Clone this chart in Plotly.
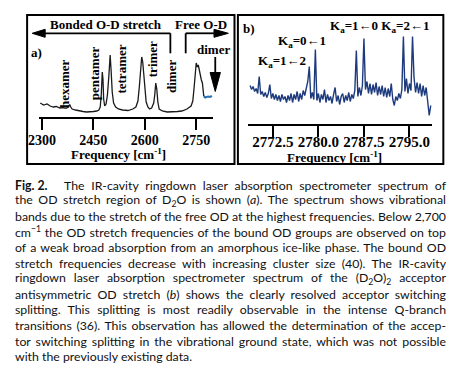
import json
import plotly.graph_objects as go

W, H = 457, 374

def px(x):
    return x / W

def py(y):
    return 1 - y / H

# ---------------- data ----------------
# panel a: OD stretch region (cm^-1, arbitrary absorbance)
a_freq = [2295, 2305, 2315, 2324, 2333, 2342, 2352, 2360, 2366, 2372, 2377, 2381, 2384, 2388,
          2398, 2409, 2420, 2430, 2440, 2450, 2460, 2466, 2470, 2473, 2476, 2478, 2480, 2483,
          2487, 2491, 2495, 2499, 2502, 2505, 2509, 2515, 2523, 2535, 2551, 2565, 2574, 2580,
          2584, 2588, 2591, 2594, 2597, 2600, 2604, 2609, 2614, 2620, 2626, 2629, 2632, 2635,
          2638, 2642, 2651, 2665, 2679, 2695, 2708, 2723, 2735, 2740, 2744, 2747, 2750, 2753,
          2756, 2759, 2762, 2765, 2768, 2770, 2772]
a_int = [14, 12, 13, 11, 10, 10.5, 9, 9.5, 9, 9, 10, 12.5, 10, 8,
         7, 6, 5.5, 5, 5, 5.5, 6, 7, 10, 22, 45, 38, 18, 11,
         13, 22, 40, 62, 45, 25, 14, 10, 8, 7, 6.5, 8, 10, 16,
         30, 52, 60, 55, 40, 25, 15, 10, 8, 9, 14, 22, 34, 28,
         15, 8, 6, 5, 5, 5.5, 6, 8, 11, 16, 30, 45, 54, 50,
         52, 47, 40, 37, 34, 24, 21]
# dimer (blue) part of panel a
a_dimer_freq = [2772, 2776, 2780, 2785, 2790, 2796]
a_dimer_int = [21, 19.5, 20, 20.5, 20, 21]
a_ticks = [2300, 2450, 2600, 2750]
a_ticktext = ["2300", "2450", "2600", "2750"]

# panel b: (D2O)2 acceptor antisymmetric OD stretch
b_freq = [2768.75, 2769.00, 2769.25, 2769.50, 2769.75, 2770.00, 2770.25, 2770.50, 2770.75, 2771.00,
          2771.25, 2771.50, 2771.75, 2772.00, 2772.25, 2772.50, 2772.75, 2773.00, 2773.25, 2773.50,
          2773.75, 2774.00, 2774.25, 2774.50, 2774.75, 2775.00, 2775.25, 2775.50, 2775.75, 2776.00,
          2776.25, 2776.50, 2776.75, 2777.00, 2777.25, 2777.50, 2777.75, 2778.00, 2778.25, 2778.50,
          2778.75, 2779.00, 2779.25, 2779.50, 2779.75, 2780.00, 2780.25, 2780.50, 2780.75, 2781.00,
          2781.25, 2781.50, 2781.75, 2782.00, 2782.25, 2782.50, 2782.75, 2783.00, 2783.25, 2783.50,
          2783.75, 2784.00, 2784.25, 2784.50, 2784.75, 2785.00, 2785.25, 2785.50, 2785.75, 2786.00,
          2786.25, 2786.50, 2786.75, 2787.00, 2787.25, 2787.50, 2787.75, 2788.00, 2788.25, 2788.50,
          2788.75, 2789.00, 2789.25, 2789.50, 2789.75, 2790.00, 2790.25, 2790.50, 2790.75, 2791.00,
          2791.25, 2791.50, 2791.75, 2792.00, 2792.25, 2792.50, 2792.75, 2793.00, 2793.25, 2793.50,
          2793.75, 2794.00, 2794.25, 2794.50, 2794.75, 2795.00, 2795.25, 2795.50, 2795.75, 2796.00,
          2796.25, 2796.50, 2796.75, 2797.00, 2797.25, 2797.50, 2797.75, 2798.00, 2798.25, 2798.50]
b_int = [38, 34, 37, 32, 35, 30, 47, 29, 32, 27,
         31, 26, 30, 39, 25, 30, 24, 29, 23, 28,
         22, 29, 24, 27, 21, 28, 23, 30, 21, 29,
         24, 32, 22, 30, 24, 33, 28, 36, 42, 57,
         25, 31, 24, 74, 23, 30, 21, 29, 24, 34,
         21, 29, 23, 27, 20, 29, 36, 22, 28, 19,
         27, 30, 21, 28, 23, 31, 22, 29, 25, 33,
         73, 27, 36, 28, 38, 85, 34, 42, 30, 40,
         29, 39, 31, 41, 28, 37, 29, 38, 27, 36,
         26, 35, 27, 40, 24, 18, 27, 23, 30, 25,
         34, 87, 32, 45, 30, 40, 33, 87, 46, 31,
         41, 30, 40, 27, 38, 28, 36, 22, 8, 18]
b_ticks = [2772.5, 2780.0, 2787.5, 2795.0]
b_ticktext = ["2772.5", "2780.0", "2787.5", "2795.0"]

caption_lines = [
    "The IR-cavity ringdown laser absorption spectrometer spectrum of",
    "the OD stretch region of D<sub>2</sub>O is shown (<i>a</i>). The spectrum shows vibrational",
    "bands due to the stretch of the free OD at the highest frequencies. Below 2,700",
    "cm<sup>\u22121</sup> the OD stretch frequencies of the bound OD groups are observed on top",
    "of a weak broad absorption from an amorphous ice-like phase. The bound OD",
    "stretch frequencies decrease with increasing cluster size (40). The IR-cavity",
    "ringdown laser absorption spectrometer spectrum of the (D<sub>2</sub>O)<sub>2</sub> acceptor",
    "antisymmetric OD stretch (<i>b</i>) shows the clearly resolved acceptor switching",
    "splitting. This splitting is most readily observable in the intense Q-branch",
    "transitions (36). This observation has allowed the determination of the accep-",
    "tor switching splitting in the vibrational ground state, which was not possible",
    "with the previously existing data.",
]

SERIF = "Liberation Serif"
SANS = "Lato"

fig = go.Figure()
fig.add_trace(go.Scatter(x=a_freq, y=a_int, mode="lines", line=dict(color="#1a1a1a", width=1.3),
                         xaxis="x", yaxis="y", hoverinfo="skip"))
fig.add_trace(go.Scatter(x=a_dimer_freq, y=a_dimer_int, mode="lines", line=dict(color="#2e74b5", width=2),
                         xaxis="x", yaxis="y", hoverinfo="skip"))
fig.add_trace(go.Scatter(x=b_freq, y=b_int, mode="lines", line=dict(color="#1c3a7c", width=1.4),
                         xaxis="x2", yaxis="y2", hoverinfo="skip"))

axis_common = dict(showgrid=False, zeroline=False, showline=True, linecolor="black", linewidth=2,
                   ticks="outside", tickwidth=2, tickcolor="black")

fig.update_layout(
    width=W, height=H, margin=dict(l=0, r=0, t=0, b=0),
    paper_bgcolor="white", plot_bgcolor="white", showlegend=False,
    xaxis=dict(domain=[px(29), px(207)], range=[2292.3, 2799], tickvals=a_ticks,
               ticktext=["<b>%s</b>" % t for t in a_ticktext], ticklen=11, ticklabelstandoff=-2,
               tickfont=dict(family=SERIF, size=14, color="black"), anchor="y", **axis_common),
    yaxis=dict(domain=[py(117), py(15)], range=[0, 102], visible=False),
    xaxis2=dict(domain=[px(243.3), px(431.7)], range=[2768.48, 2798.76], tickvals=b_ticks,
                ticktext=["<b>%s</b>" % t for t in b_ticktext], ticklen=11.5, ticklabelstandoff=-8,
                tickfont=dict(family=SERIF, size=15, color="black"), anchor="y2", **axis_common),
    yaxis2=dict(domain=[py(123.5), py(15)], range=[0, 108.5], visible=False, anchor="x2"),
)

shapes = []
# frames
for x0, x1 in [(16.5, 229), (232.5, 443)]:
    shapes.append(dict(type="rect", xref="paper", yref="paper", x0=px(x0), x1=px(x1), y0=py(164), y1=py(15),
                       line=dict(color="black", width=2)))

def seg(x0, y0, x1, y1, w=1.8):
    shapes.append(dict(type="line", xref="paper", yref="paper", x0=px(x0), y0=py(y0), x1=px(x1), y1=py(y1),
                       line=dict(color="black", width=w)))

def tri(pts):
    d = "M " + " L ".join("%f %f" % (px(x), py(y)) for x, y in pts) + " Z"
    shapes.append(dict(type="path", xref="paper", yref="paper", path=d, fillcolor="black",
                       line=dict(color="black", width=1)))

seg(34, 33.3, 163.3, 33.3)
seg(163.3, 33.3, 163.3, 53.3)
tri([(21.7, 33.3), (35, 29.3), (35, 37.3)])
seg(179, 53.3, 179, 33.3)
seg(179, 33.3, 209, 33.3)
tri([(222.7, 33.3), (208, 29.3), (208, 37.3)])
seg(209.3, 57, 209.3, 74)
tri([(209.3, 91.5), (204, 72.5), (214.6, 72.5)])

ann = []

def txt(x, y, s, size=13, family=SERIF, angle=0, anchor="center", bold=True, color="black"):
    ann.append(dict(xref="paper", yref="paper", x=px(x), y=py(y), text=("<b>%s</b>" % s) if bold else s,
                    showarrow=False, textangle=angle, xanchor=anchor, yanchor="middle",
                    align="left" if anchor == "left" else "center",
                    font=dict(family=family, size=size, color=color)))

txt(97, 24, "Bonded O-D stretch")
txt(195, 24, "Free O-D")
txt(26.5, 52.7, "a)")
txt(54.3, 83, "hexamer", angle=-90)
txt(85, 73.3, "pentamer", angle=-90)
txt(113.3, 69, "tetramer", angle=-90)
txt(145, 59.7, "trimer", angle=-90)
txt(165, 77, "dimer", angle=-90)
txt(208, 50, "dimer")
txt(110, 154.3, "Frequency [cm<sup>-1</sup>]")
txt(331, 156.5, "Frequency [cm<sup>-1</sup>]")
txt(244, 29, "b)")
txt(378, 27, "K<sub>a</sub>=1\u21900 K<sub>a</sub>=2\u21901")
txt(298, 41.7, "K<sub>a</sub>=0\u21901")
txt(277.5, 61.7, "K<sub>a</sub>=1\u21902")

# caption
y0, dy = 185, 15.6
CAP = 12.3
LEFT, RIGHT, FIRST = 15, 446, 64
txt(LEFT, y0, "Fig. 2.", size=CAP, family=SANS, anchor="left", color="#111")
fit = [["Fig. 2.", LEFT, None]]
for i, line in enumerate(caption_lines):
    x = FIRST if i == 0 else LEFT
    txt(x, y0 + dy * i, line, size=CAP, family=SANS, anchor="left", bold=False, color="#111")
    plain = line
    for tag in ("<sub>", "</sub>", "<sup>", "</sup>", "<i>", "</i>"):
        plain = plain.replace(tag, "")
    fit.append([plain[:2] + "|" + plain[-6:], x, RIGHT if i < len(caption_lines) - 1 else None])

fig.update_layout(shapes=shapes, annotations=ann)

# justify the caption lines (as in the printed caption): fit the first/last glyph positions
js = """
document.body.style.margin = '0';
var gd = document.getElementById('{plot_id}');
var fit = %s;
var g0 = gd.getBoundingClientRect();
function clean(s) { return s.replace(/[\\u200b\\u00a0]/g, function (c) { return c === '\\u00a0' ? ' ' : ''; }); }
function edges(t) {
  var m = t.getNumberOfChars();
  var a = t.getStartPositionOfChar(0);
  var j = m - 1;
  var s = t.textContent;
  while (j > 0 && s.charAt(j) === '\\u200b') j--;
  var b = t.getEndPositionOfChar(j);
  var c = t.getScreenCTM();
  return [c.a * a.x + c.c * a.y + c.e - g0.left, c.a * b.x + c.c * b.y + c.e - g0.left];
}
gd.querySelectorAll('g.annotation-text-g text').forEach(function (t) {
  var s = clean(t.textContent);
  for (var i = 0; i < fit.length; i++) {
    var key = fit[i][0].split('|');
    if (key.length === 2) {
      if (s.indexOf(key[0]) !== 0 || s.slice(-key[1].length) !== key[1]) continue;
    } else if (s !== key[0]) continue;
    var L = fit[i][1], R = fit[i][2];
    var n = (s.match(/ /g) || []).length;
    var base = t.getAttribute('transform') || '';
    var dx = 0, ws = 0;
    for (var k = 0; k < 6; k++) {
      var e = edges(t);
      dx += L - e[0];
      t.setAttribute('transform', 'translate(' + dx + ',0) ' + base);
      if (R !== null && n > 0) {
        e = edges(t);
        ws += (R - e[1]) / n;
        t.style.wordSpacing = ws + 'px';
      }
    }
    break;
  }
});
""" % json.dumps(fit)

fig.write_html("out.html", post_script=js, config={"displayModeBar": False})
